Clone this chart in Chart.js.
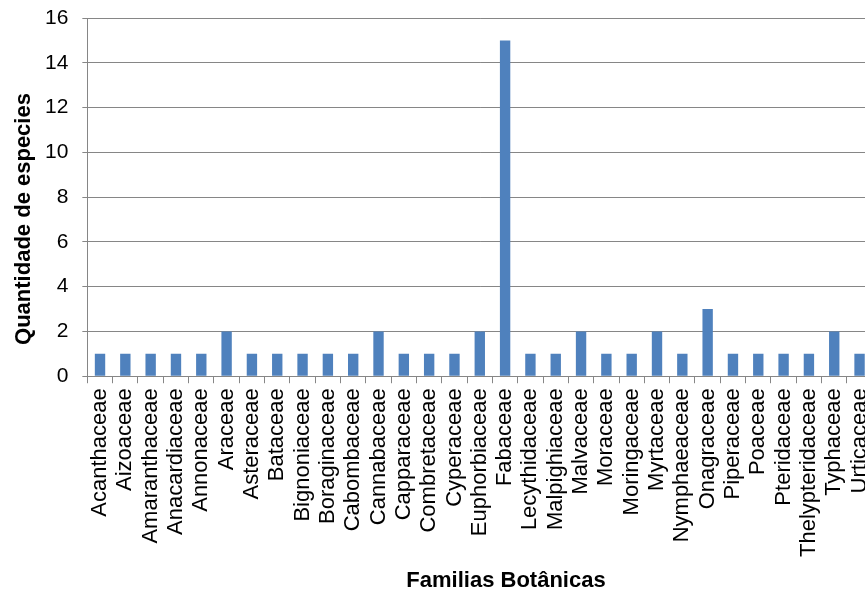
<!DOCTYPE html>
<html>
<head>
<meta charset="utf-8">
<script src="https://cdn.jsdelivr.net/npm/chart.js@4/dist/chart.umd.min.js"></script>
<style>
  html, body { margin: 0; padding: 0; background: #fff; overflow: hidden; }
  #wrap { width: 891px; height: 590px; }
</style>
</head>
<body>
<div id="wrap"><canvas id="chart"></canvas></div>
<script>
const familias = [
    'Acanthaceae', 'Aizoaceae', 'Amaranthaceae', 'Anacardiaceae', 'Annonaceae',
    'Araceae', 'Asteraceae', 'Bataceae', 'Bignoniaceae', 'Boraginaceae',
    'Cabombaceae', 'Cannabaceae', 'Capparaceae', 'Combretaceae', 'Cyperaceae',
    'Euphorbiaceae', 'Fabaceae', 'Lecythidaceae', 'Malpighiaceae', 'Malvaceae',
    'Moraceae', 'Moringaceae', 'Myrtaceae', 'Nymphaeaceae', 'Onagraceae',
    'Piperaceae', 'Poaceae', 'Pteridaceae', 'Thelypteridaceae', 'Typhaceae',
    'Urticaceae'
];
const especies = [
    1, 1, 1, 1, 1,
    2, 1, 1, 1, 1,
    1, 2, 1, 1, 1,
    2, 15, 1, 1, 2,
    1, 1, 2, 1, 3,
    1, 1, 1, 1, 2,
    1
];
const yTicks = [0, 2, 4, 6, 8, 10, 12, 14, 16];
const xTitle = 'Familias Botânicas';
const yTitle = 'Quantidade de especies';

const fontName = '"Liberation Sans", Arial, sans-serif';

// axis titles are placed by hand, they are not centred on the plot in the original
const titlesPlugin = {
    id: 'titlesPlugin',
    afterDraw(chart) {
        const ctx = chart.ctx;
        ctx.save();
        ctx.font = 'bold 22px ' + fontName;
        ctx.fillStyle = '#000';
        ctx.textAlign = 'center';
        ctx.textBaseline = 'alphabetic';
        ctx.fillText(xTitle, 506, 587);

        ctx.translate(30, 219);
        ctx.rotate(-Math.PI / 2);
        ctx.fillText(yTitle, 0, 0);
        ctx.restore();
    }
};

new Chart(document.getElementById('chart'), {
    type: 'bar',
    data: {
        labels: familias,
        datasets: [{
            label: yTitle,
            data: especies,
            backgroundColor: '#4F81BD',
            borderWidth: 0,
            barPercentage: 0.41,
            categoryPercentage: 1
        }]
    },
    plugins: [titlesPlugin],
    options: {
        responsive: true,
        maintainAspectRatio: false,
        animation: false,
        layout: { padding: { top: 18, right: 3, bottom: 28, left: 45 } },
        plugins: {
            legend: { display: false },
            tooltip: { enabled: false }
        },
        scales: {
            x: {
                grid: {
                    display: true,
                    offset: true,
                    drawOnChartArea: false,
                    drawTicks: true,
                    tickLength: 7,
                    color: '#868686'
                },
                border: { color: '#868686' },
                ticks: {
                    autoSkip: false,
                    maxRotation: 90,
                    minRotation: 90,
                    color: '#000',
                    padding: 5,
                    font: { family: fontName, size: 22 }
                }
            },
            y: {
                min: 0,
                max: 16,
                afterBuildTicks: function(axis) {
                    axis.ticks = yTicks.map(v => ({ value: v }));
                },
                grid: {
                    color: '#868686',
                    tickLength: 19,
                    // tick drawn from the label side: skip 14px, then the 5px mark next to the axis
                    tickBorderDash: [0, 14, 5, 10]
                },
                border: { color: '#868686' },
                ticks: {
                    color: '#000',
                    padding: 0,
                    font: { family: fontName, size: 21 }
                }
            }
        }
    }
});
</script>
</body>
</html>
